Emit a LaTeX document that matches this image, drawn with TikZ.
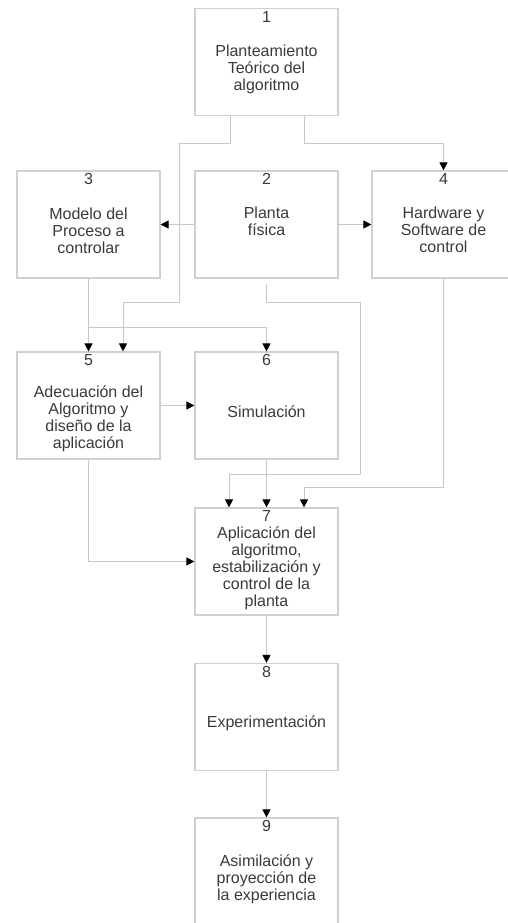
\documentclass[tikz,border=0pt]{standalone}
\usepackage{fontspec}
\setmainfont{Liberation Sans}
\usetikzlibrary{arrows.meta}
\definecolor{linegray}{HTML}{C8C8C8}
\definecolor{boxgray}{HTML}{D0D0D0}
\definecolor{textgray}{HTML}{3A3A3A}
\tikzstyle{block} = [rectangle, draw=boxgray, line width=1.2pt, minimum width=143pt, minimum height=107pt, inner sep=0pt]
\tikzstyle{txt} = [align=center, text=textgray, font=\fontsize{16}{17}\selectfont, inner sep=0pt]
\tikzstyle{num} = [anchor=north, inner sep=0pt, yshift=-3pt, text=textgray, font=\fontsize{16}{17}\selectfont]
\tikzstyle{arrow} = [draw=linegray, line width=1pt, -{Triangle[length=8pt, width=8pt, black]}]

\begin{document}
\begin{tikzpicture}[x=1pt, y=-1pt]
    \useasboundingbox (0,0) rectangle (507,923);
    \node [block, label={[num]north:1}] at (266.5,62) (b1) {};
    \node [block, label={[num]north:2}] at (266.5,224.5) (b2) {};
    \node [block, label={[num]north:3}] at (88.5,224.5) (b3) {};
    \node [block, label={[num]north:4}] at (443.5,224.5) (b4) {};
    \node [block, label={[num]north:5}] at (88.5,405.5) (b5) {};
    \node [block, label={[num]north:6}] at (266.5,405.5) (b6) {};
    \node [block, label={[num]north:7}] at (266.5,561.5) (b7) {};
    \node [block, label={[num]north:8}] at (266.5,717) (b8) {};
    \node [block, label={[num]north:9}] at (266.5,871.5) (b9) {};
    \node [txt] at (266.5,69) (t1) {Planteamiento\\Teórico del\\algoritmo};
    \node [txt] at (266.5,221.5) (t2) {Planta\\física};
    \node [txt] at (88.5,231) (t3) {Modelo del\\Proceso a\\controlar};
    \node [txt] at (443.5,230) (t4) {Hardware y\\Software de\\control};
    \node [txt] at (88.5,418.5) (t5) {Adecuación del\\Algoritmo y\\diseño de la\\aplicación};
    \node [txt] at (266.5,412) (t6) {Simulación};
    \node [txt] at (266.5,568) (t7) {Aplicación del\\algoritmo,\\estabilización y\\control de la\\planta};
    \node [txt] at (266.5,723) (t8) {Experimentación};
    \node [txt] at (266.5,879) (t9) {Asimilación y\\proyección de\\la experiencia};
    % links from 1
    \draw [arrow] (b1.south -| 230,0) -- (230,143) -- (179,143) -- (179,302) -- (123,302) -- (b5.north -| 123,0);
    \draw [arrow] (b1.south -| 304,0) -- (304,143) -| (b4.north);
    % links from 2
    \draw [arrow] (b2.west) -- (b3.east);
    \draw [arrow] (b2.east) -- (b4.west);
    \draw [arrow] ([yshift=-5pt]b2.south) -- (266.5,302) -- (360,302) -- (360,474) -- (229,474) -- (b7.north -| 229,0);
    % links from 3
    \draw [arrow] (b3.south) -- (b5.north);
    \draw [arrow] (88.5,327) -| (b6.north);
    % links from 4, 5, 6
    \draw [arrow] (b4.south) -- (443.5,487) -- (304,487) -- (b7.north -| 304,0);
    \draw [arrow] (b5.east) -- (b6.west);
    \draw [arrow] (b5.south) |- (b7.west);
    \draw [arrow] (b6.south) -- (b7.north);
    % links down
    \draw [arrow] (b7.south) -- (b8.north);
    \draw [arrow] (b8.south) -- (b9.north);
\end{tikzpicture}
\end{document}
